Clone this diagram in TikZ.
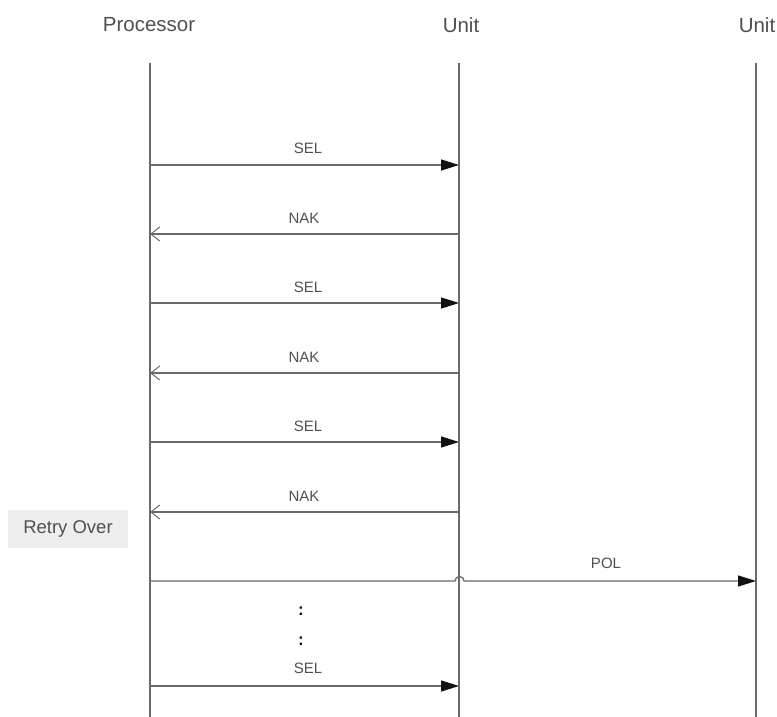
\documentclass[tikz,border=0pt]{standalone}
\usepackage{fontspec}
\setmainfont{Liberation Sans}
\usetikzlibrary{arrows.meta}
\definecolor{ln}{HTML}{6A6A6A}
\definecolor{tx}{HTML}{505050}
\definecolor{hd}{HTML}{111111}
\definecolor{boxfill}{HTML}{EEEEEE}
\tikzset{
  head/.style={font=\fontsize{20.5}{23}\selectfont, text=tx, inner sep=0pt},
  lbl/.style={font=\fontsize{15}{17}\selectfont, text=tx, inner sep=0pt},
  dots/.style={font=\bfseries\fontsize{17}{19}\selectfont, text=hd, inner sep=0pt},
  life/.style={draw=ln, line width=1.5pt},
  req/.style={draw=ln, line width=1.3pt, -{Triangle[length=18pt,width=11pt,color=hd,fill=hd]}},
  rsp/.style={draw=ln, line width=1.3pt, -{Straight Barb[length=9pt,width=14pt,line width=1pt]}},
  note/.style={fill=boxfill, font=\fontsize{18.5}{20}\selectfont, text=tx, minimum width=120pt, minimum height=38pt, inner sep=0pt}
}
\begin{document}
\begin{tikzpicture}[x=1pt,y=-1pt]
\useasboundingbox (0,0) rectangle (777,717);
% headers
\node[head] (hp) at (149,25) {Processor};
\node[head] (hu1) at (461,25) {Unit};
\node[head] (hu2) at (757,25) {Unit};
% lifelines
\coordinate (p0) at (150,63); \coordinate (p1) at (150,717);
\coordinate (u0) at (459,63); \coordinate (u1) at (459,717);
\coordinate (v0) at (756,63); \coordinate (v1) at (756,717);
\draw[life] (p0) -- (p1);
\draw[life] (u0) -- (u1);
\draw[life] (v0) -- (v1);
% message ends
\foreach \n/\y in {1/165,2/234,3/303,4/373,5/442,6/512,7/581,8/686}{
  \coordinate (pa\n) at (150,\y);
  \coordinate (ua\n) at (459,\y);
  \coordinate (va\n) at (756,\y);
}
\draw[req] (pa1) -- (ua1);
\node[lbl] (l1) at (308,148) {SEL};
\draw[rsp] (ua2) -- (pa2);
\node[lbl] (l2) at (304,218) {NAK};
\draw[req] (pa3) -- (ua3);
\node[lbl] (l3) at (308,287) {SEL};
\draw[rsp] (ua4) -- (pa4);
\node[lbl] (l4) at (304,357) {NAK};
\draw[req] (pa5) -- (ua5);
\node[lbl] (l5) at (308,426) {SEL};
\draw[rsp] (ua6) -- (pa6);
\node[lbl] (l6) at (304,496) {NAK};
\node[note] (retry) at (68,529) {Retry Over};
% POL with a hop over the middle lifeline
\coordinate (hopA) at (455,581);
\draw[req] (pa7) -- (hopA) arc[start angle=180, end angle=0, radius=4.5pt] -- (va7);
\node[lbl] (l7) at (606,563) {POL};
\node[dots] (d1) at (301,611) {:};
\node[dots] (d2) at (301,641) {:};
\draw[req] (pa8) -- (ua8);
\node[lbl] (l8) at (308,668) {SEL};
\end{tikzpicture}
\end{document}
